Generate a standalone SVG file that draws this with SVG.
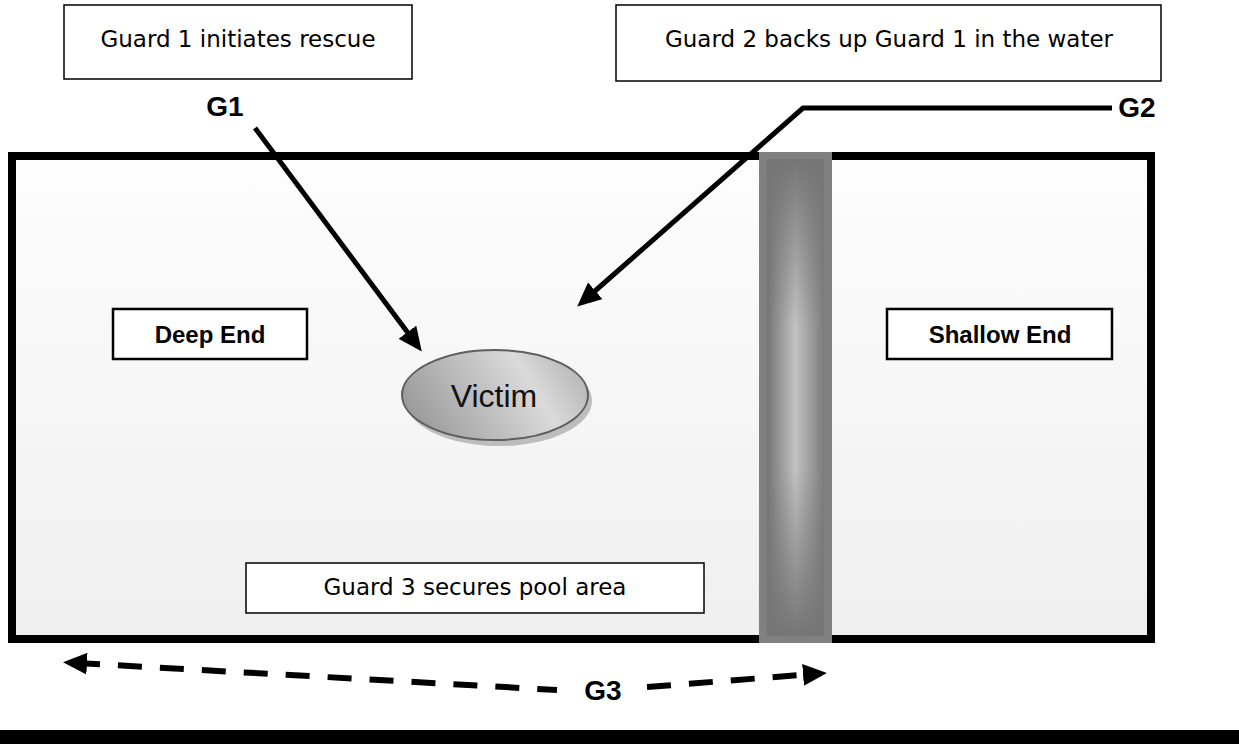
<svg xmlns="http://www.w3.org/2000/svg" width="1239" height="744" viewBox="0 0 1239 744">
  <style>
    .note { fill: #ffffff; stroke: #000000; stroke-width: 1.5; }
    .label { fill: #ffffff; stroke: #000000; stroke-width: 2.5; }
    .hand { font-family: "DejaVu Sans", "Liberation Sans", sans-serif; font-size: 23px; fill: #000000; text-anchor: middle; }
    .bold { font-family: "Liberation Sans", Arial, sans-serif; font-weight: bold; fill: #000000; text-anchor: middle; }
    .tag { font-size: 28px; }
    .zone { font-size: 24px; }
    .arrow { fill: none; stroke: #000000; stroke-width: 5; }
    .dash { fill: none; stroke: #000000; stroke-width: 6; stroke-dasharray: 24 18; }
  </style>
  <defs>
    <linearGradient id="water" x1="0" y1="0" x2="0" y2="1">
      <stop offset="0" stop-color="#fdfdfd"/>
      <stop offset="1" stop-color="#efefef"/>
    </linearGradient>
    <linearGradient id="ropeH" x1="0" y1="0" x2="1" y2="0">
      <stop offset="0" stop-color="#747474"/>
      <stop offset="0.5" stop-color="#c2c2c2"/>
      <stop offset="1" stop-color="#7c7c7c"/>
    </linearGradient>
    <linearGradient id="ropeV" x1="0" y1="0" x2="0" y2="1">
      <stop offset="0" stop-color="#757575" stop-opacity="1"/>
      <stop offset="0.35" stop-color="#757575" stop-opacity="0"/>
      <stop offset="0.65" stop-color="#757575" stop-opacity="0"/>
      <stop offset="1" stop-color="#757575" stop-opacity="1"/>
    </linearGradient>
    <linearGradient id="victimFill" x1="0" y1="0.6" x2="1" y2="0.3">
      <stop offset="0" stop-color="#9a9a9a"/>
      <stop offset="0.7" stop-color="#dadada"/>
      <stop offset="1" stop-color="#b5b5b5"/>
    </linearGradient>
    <marker id="head" viewBox="0 0 24 22" refX="11" refY="11" markerWidth="24" markerHeight="22" markerUnits="userSpaceOnUse" orient="auto-start-reverse">
      <path d="M0,0 L24,11 L0,22 z" fill="#000000"/>
    </marker>
  </defs>

  <rect width="1239" height="744" fill="#ffffff"/>

  <!-- pool -->
  <g id="pool">
    <rect x="12" y="156" width="1139" height="483" fill="url(#water)" stroke="#000000" stroke-width="8"/>
  </g>

  <!-- lane rope between deep and shallow end -->
  <g id="rope">
    <rect x="759" y="152" width="73" height="491" fill="#808080"/>
    <rect x="767" y="159" width="57" height="477" fill="url(#ropeH)"/>
    <rect x="767" y="159" width="57" height="477" fill="url(#ropeV)"/>
  </g>

  <g id="note-g1">
    <rect class="note" x="64" y="5" width="348" height="74"/>
    <text class="hand" x="238" y="47">Guard 1 initiates rescue</text>
  </g>

  <g id="note-g2">
    <rect class="note" x="616" y="5" width="545" height="76"/>
    <text class="hand" x="889" y="47">Guard 2 backs up Guard 1 in the water</text>
  </g>

  <g id="deep-end">
    <rect class="label" x="113" y="309" width="194" height="50"/>
    <text class="bold zone" x="210" y="343">Deep End</text>
  </g>

  <g id="shallow-end">
    <rect class="label" x="887" y="309" width="225" height="50"/>
    <text class="bold zone" x="1000" y="343">Shallow End</text>
  </g>

  <g id="victim">
    <ellipse cx="499" cy="401" rx="93" ry="45" fill="#bdbdbd"/>
    <ellipse cx="495" cy="395" rx="93" ry="45" fill="url(#victimFill)" stroke="#5e5e5e" stroke-width="2"/>
    <text x="494" y="407" font-family="Liberation Sans, Arial, sans-serif" font-size="32" fill="#111111" text-anchor="middle">Victim</text>
  </g>

  <g id="note-g3">
    <rect class="note" x="246" y="563" width="458" height="50"/>
    <text class="hand" x="475" y="595">Guard 3 secures pool area</text>
  </g>

  <g id="guards">
    <text class="bold tag" x="225" y="116">G1</text>
    <text class="bold tag" x="1137" y="117">G2</text>
    <text class="bold tag" x="603" y="700">G3</text>
  </g>

  <g id="connectors">
    <path class="arrow" d="M255,128 L414,341" marker-end="url(#head)"/>
    <path class="arrow" d="M1112,108 L803,108 L587,298" marker-end="url(#head)"/>
    <path class="dash" d="M76,663 L557,690" marker-start="url(#head)"/>
    <path class="dash" d="M647,687 L814,674" marker-end="url(#head)"/>
  </g>

  <rect x="0" y="730" width="1239" height="14" fill="#000000"/>
</svg>
